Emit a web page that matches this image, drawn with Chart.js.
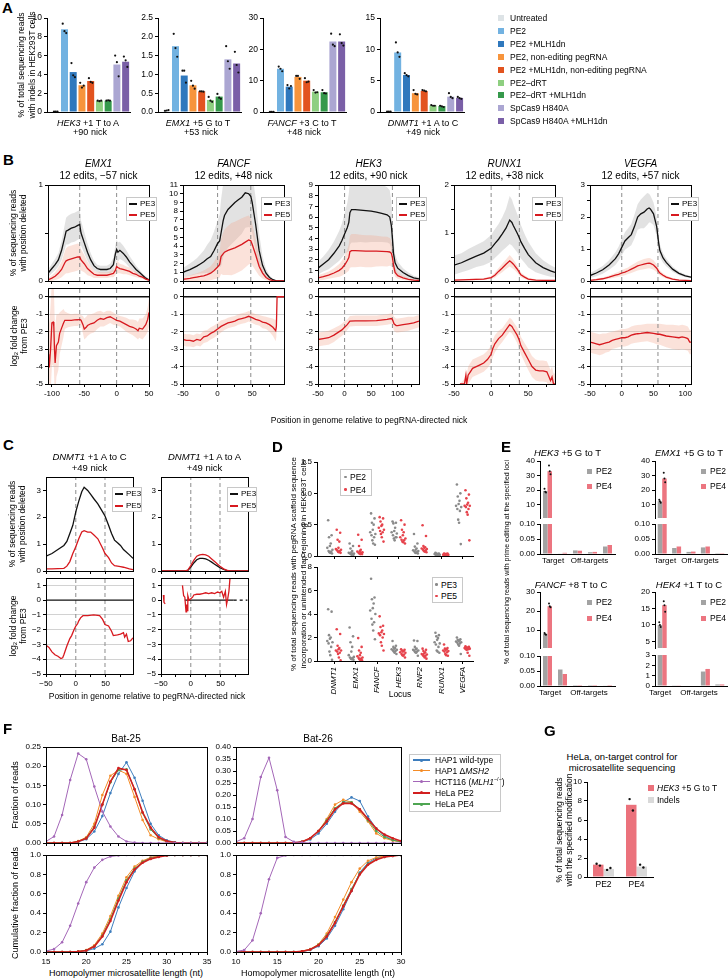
<!DOCTYPE html>
<html><head><meta charset="utf-8">
<title>Prime editing figure</title>
<script src="https://cdn.jsdelivr.net/npm/chart.js@4.4.1/dist/chart.umd.min.js"></script>
<style>
html,body{margin:0;padding:0;background:#fff}
body{width:728px;height:978px;position:relative;overflow:hidden;font-family:"Liberation Sans",Arial,Helvetica,sans-serif;color:#000}
.t{position:absolute;white-space:nowrap;line-height:1.15;transform:translate(-50%,-50%);text-align:center}
.l{position:absolute;white-space:nowrap;line-height:1;transform:translateY(-50%)}
.r{position:absolute;white-space:nowrap;transform:translate(-50%,-50%) rotate(-90deg);text-align:center}
.p{position:absolute;font-weight:bold;font-size:15px;line-height:1}
canvas{position:absolute}
sub{font-size:0.7em;vertical-align:-0.2em;line-height:0}
</style></head><body>
<script>
// ======================= DATA =======================
// ---- Panel A ----
const A_LABELS = ['Untreated','PE2','PE2 +MLH1dn','PE2, non-editing pegRNA','PE2 +MLH1dn, non-editing pegRNA','PE2–dRT','PE2–dRT +MLH1dn','SpCas9 H840A','SpCas9 H840A +MLH1dn'];
const A_COLORS = ['#dde3e6','#72b2e1','#2f78bd','#f7943c','#e2531f','#8ecf80','#35994b','#aba6d2','#7a5fa7'];
const A_HEK3  = [0.05, 8.8, 4.25, 2.85, 3.3, 1.2, 1.2, 5.05, 5.35];
const A_HEK3_REPS = [[0.05,0.05,0.05],[9.4,8.6,8.4],[5.2,3.9,3.7],[3.1,2.6,2.8],[3.6,3.2,3.1],[1.2,1.15,1.2],[1.2,1.25,1.2],[6.0,5.3,3.8],[5.9,5.5,4.8]];
const A_EMX1  = [0.04, 1.75, 0.97, 0.71, 0.55, 0.32, 0.41, 1.4, 1.29];
const A_EMX1_REPS = [[0.03,0.04,0.05],[2.08,1.7,1.47],[1.1,1.1,0.78],[0.83,0.7,0.62],[0.55,0.55,0.54],[0.4,0.3,0.27],[0.48,0.38,0.35],[1.75,1.35,1.15],[1.6,1.25,1.05]];
const A_FANCF = [0.05, 13.8, 8.1, 11.2, 10.0, 6.5, 6.3, 22.5, 22.5];
const A_FANCF_REPS = [[0.05,0.05,0.05],[14.5,13.8,13.0],[8.6,7.5,8.3],[11.5,11.5,10.6],[10.8,9.5,9.7],[7.0,6.2,6.3],[7.0,6.0,5.9],[25.0,21.5,21.0],[24.8,22.0,21.2]];
const A_DNMT1 = [0.05, 9.5, 5.9, 3.0, 3.35, 1.05, 0.95, 2.45, 2.25];
const A_DNMT1_REPS = [[0.05,0.05,0.05],[11.1,9.5,8.8],[6.2,5.9,5.7],[3.5,2.9,2.8],[3.5,3.4,3.3],[1.1,1.0,1.0],[1.0,0.9,0.8],[3.0,2.4,2.2],[2.4,2.2,2.1]];

// ---- Panel B: top rows [position, PE3 mean, PE3 sd, PE5 mean, PE5 sd]; fc rows [position, log2FC, sd] ----
const B_EMX1_TOP = [
 [-106,0.08,0.04,0.01,0.02],[-100,0.13,0.05,0.03,0.03],[-95,0.17,0.06,0.05,0.04],[-90,0.22,0.07,0.08,0.06],
 [-85,0.32,0.1,0.12,0.08],[-80,0.46,0.13,0.19,0.12],[-78,0.52,0.14,0.21,0.13],[-75,0.53,0.15,0.22,0.14],
 [-70,0.55,0.15,0.23,0.14],[-65,0.56,0.15,0.24,0.14],[-60,0.58,0.15,0.25,0.14],[-57,0.59,0.15,0.25,0.13],
 [-55,0.5,0.13,0.22,0.11],[-50,0.4,0.11,0.18,0.09],[-45,0.3,0.09,0.13,0.07],[-40,0.22,0.07,0.1,0.05],
 [-35,0.16,0.05,0.07,0.04],[-30,0.13,0.04,0.06,0.03],[-25,0.12,0.04,0.06,0.03],[-20,0.12,0.04,0.06,0.03],
 [-15,0.12,0.04,0.06,0.03],[-10,0.13,0.05,0.07,0.03],[-5,0.17,0.07,0.08,0.04],[-2,0.28,0.09,0.11,0.05],
 [0,0.33,0.1,0.15,0.06],[2,0.3,0.1,0.14,0.06],[5,0.32,0.09,0.13,0.05],[10,0.29,0.08,0.12,0.05],
 [15,0.25,0.07,0.11,0.04],[20,0.2,0.06,0.1,0.04],[25,0.16,0.05,0.08,0.03],[30,0.12,0.04,0.07,0.03],
 [35,0.09,0.03,0.05,0.02],[40,0.06,0.02,0.04,0.02],[45,0.03,0.02,0.02,0.01],[50,0.01,0.01,0.01,0.01]];
const B_EMX1_FC = [
 [-106,-3.3,2.5],[-105,-3.6,2.5],[-104,-4.05,2.5],[-102,-3.0,2.5],[-100,-1.5,2.5],[-98,-1.45,2.4],[-97,-1.7,2.3],
 [-96,-3.0,2.2],[-95,-3.8,2.0],[-93,-2.8,1.8],[-90,-2.6,1.6],[-88,-2.1,1.2],[-85,-1.8,1.0],[-82,-1.5,0.8],
 [-80,-1.35,0.5],[-75,-1.35,0.4],[-70,-1.35,0.35],[-65,-1.33,0.35],[-60,-1.32,0.35],[-57,-1.3,0.3],[-55,-1.35,0.3],
 [-52,-1.6,0.5],[-50,-1.85,0.6],[-47,-1.75,0.6],[-45,-1.65,0.6],[-40,-1.55,0.55],[-35,-1.5,0.55],[-30,-1.35,0.5],
 [-25,-1.25,0.45],[-20,-1.3,0.4],[-15,-1.2,0.4],[-10,-1.15,0.35],[-5,-1.25,0.35],[0,-1.35,0.3],[5,-1.4,0.3],
 [10,-1.5,0.35],[15,-1.6,0.4],[20,-1.7,0.4],[25,-1.75,0.45],[30,-1.85,0.5],[33,-1.95,0.5],[35,-1.8,0.55],
 [40,-1.85,0.6],[45,-1.6,0.6],[48,-1.3,0.7],[50,-0.9,0.8]];
const B_FANCF_TOP = [
 [-50,1.0,0.5,0.2,0.3],[-45,1.15,0.6,0.25,0.32],[-40,1.3,0.7,0.3,0.35],[-35,1.5,0.8,0.38,0.4],
 [-30,1.7,0.9,0.45,0.45],[-25,1.95,1.1,0.52,0.5],[-20,2.2,1.3,0.6,0.6],[-15,2.55,1.6,0.72,0.7],
 [-10,2.8,1.9,0.9,0.8],[-5,3.5,2.2,1.2,1.0],[0,4.3,2.6,1.6,1.3],[3,4.6,3.0,1.9,1.5],
 [5,5.5,3.8,2.8,2.0],[8,6.9,4.2,3.1,2.4],[10,7.5,4.3,3.3,2.6],[15,8.2,4.4,3.5,2.8],
 [20,8.6,4.4,3.65,3.0],[25,9.0,4.4,3.8,3.0],[30,9.3,4.3,4.0,3.0],[35,9.6,4.2,4.2,3.0],
 [40,10.1,4.0,4.45,2.9],[45,10.0,3.8,4.7,2.8],[48,9.7,3.6,4.6,2.6],[50,9.0,3.4,4.2,2.4],
 [55,6.5,3.0,3.0,1.8],[60,3.5,2.0,1.7,1.1],[65,1.8,1.0,0.9,0.6],[70,0.9,0.5,0.4,0.3],
 [75,0.4,0.25,0.15,0.12],[80,0.15,0.1,0.05,0.05],[85,0.02,0.02,0.01,0.01],[90,0,0,0,0],[96,0,0,0,0]];
const B_FANCF_FC = [
 [-50,-2.45,0.35],[-45,-2.5,0.35],[-40,-2.5,0.35],[-35,-2.55,0.35],[-30,-2.45,0.35],[-25,-2.5,0.35],[-20,-2.3,0.35],
 [-15,-2.25,0.35],[-10,-2.1,0.35],[-5,-2.0,0.35],[0,-1.85,0.35],[5,-1.7,0.35],[10,-1.6,0.3],[15,-1.5,0.3],
 [20,-1.45,0.3],[25,-1.4,0.3],[30,-1.3,0.3],[35,-1.25,0.3],[40,-1.2,0.3],[45,-1.12,0.3],[50,-1.2,0.3],
 [55,-1.3,0.3],[60,-1.35,0.3],[65,-1.45,0.35],[70,-1.5,0.35],[75,-1.6,0.4],[80,-1.75,0.5],[84,-1.95,0.6],
 [85,-1.7,0.6],[86,0,0],[96,0,0]];
const B_HEK3_TOP = [
 [-50,1.2,0.6,0.3,0.25],[-40,1.6,0.7,0.4,0.3],[-30,2.0,0.9,0.55,0.35],[-20,2.6,1.1,0.75,0.45],
 [-10,3.3,1.4,1.0,0.6],[-5,3.8,1.6,1.2,0.7],[0,4.4,1.9,1.5,0.85],[5,5.0,2.3,1.9,1.05],
 [8,5.5,2.7,2.2,1.25],[10,6.4,3.0,2.75,1.5],[13,6.7,3.1,2.85,1.55],[20,6.7,3.1,2.85,1.55],
 [30,6.65,3.0,2.83,1.5],[40,6.6,3.0,2.8,1.5],[50,6.55,2.9,2.8,1.5],[60,6.45,2.8,2.8,1.45],
 [70,6.35,2.7,2.78,1.4],[80,6.2,2.6,2.75,1.4],[85,6.0,2.5,2.72,1.3],[88,5.2,2.2,2.6,1.2],
 [90,4.0,1.8,2.2,1.0],[92,2.6,1.2,1.5,0.7],[95,1.7,0.8,0.8,0.4],[100,1.2,0.6,0.5,0.3],
 [110,0.8,0.4,0.3,0.2],[120,0.5,0.3,0.15,0.1],[130,0.3,0.2,0.08,0.06],[140,0.2,0.15,0.05,0.04]];
const B_HEK3_FC = [
 [-50,-2.45,0.4],[-40,-2.4,0.4],[-30,-2.35,0.4],[-20,-2.2,0.4],[-10,-2.0,0.35],[-5,-1.9,0.35],[0,-1.75,0.35],
 [5,-1.6,0.3],[10,-1.4,0.3],[20,-1.38,0.3],[40,-1.38,0.3],[60,-1.37,0.3],[80,-1.3,0.3],[88,-1.25,0.3],
 [90,-1.3,0.35],[93,-1.55,0.4],[97,-1.65,0.4],[100,-1.65,0.4],[110,-1.6,0.4],[120,-1.55,0.4],[130,-1.5,0.35],[140,-1.4,0.35]];
const B_RUNX1_TOP = [
 [-50,0.33,0.2,0.02,0.01],[-40,0.38,0.2,0.025,0.01],[-30,0.45,0.22,0.03,0.015],[-20,0.52,0.23,0.035,0.02],
 [-10,0.58,0.25,0.04,0.02],[0,0.68,0.28,0.07,0.03],[5,0.78,0.3,0.12,0.05],[10,0.87,0.32,0.2,0.07],
 [15,0.98,0.35,0.27,0.09],[20,1.1,0.4,0.35,0.1],[25,1.27,0.5,0.42,0.12],[28,1.22,0.48,0.38,0.11],
 [30,1.15,0.45,0.35,0.1],[35,1.0,0.4,0.25,0.08],[38,0.9,0.38,0.18,0.06],[40,0.82,0.35,0.13,0.05],
 [45,0.68,0.3,0.08,0.04],[50,0.55,0.27,0.04,0.03],[60,0.38,0.2,0.02,0.015],[70,0.28,0.15,0.015,0.01],
 [80,0.21,0.12,0.01,0.01],[86,0.18,0.1,0.01,0.01]];
const B_RUNX1_FC = [
 [-42,-5,0],[-36,-5,0.3],[-34,-4.5,0.4],[-33,-5,0.5],[-31,-4.5,0.5],[-28,-4.3,0.5],[-25,-4.1,0.5],[-20,-4.0,0.5],
 [-15,-3.9,0.5],[-10,-3.8,0.5],[-5,-3.6,0.5],[0,-3.3,0.5],[2,-3.0,0.5],[5,-2.7,0.5],[10,-2.4,0.45],[15,-2.2,0.4],
 [20,-1.9,0.4],[25,-1.6,0.4],[28,-1.7,0.4],[30,-1.85,0.4],[35,-2.2,0.45],[38,-2.5,0.5],[40,-2.8,0.5],[45,-3.2,0.55],
 [50,-3.6,0.6],[55,-4.0,0.6],[60,-4.2,0.6],[65,-4.25,0.6],[70,-4.25,0.6],[75,-4.3,0.6],[78,-4.6,0.6],[80,-4.8,0.6],
 [82,-4.6,0.6],[84,-5,0.6],[86,-5,0.6]];
const B_VEGFA_TOP = [
 [-50,0.17,0.08,0.02,0.02],[-40,0.25,0.1,0.04,0.03],[-30,0.35,0.12,0.07,0.04],[-20,0.5,0.15,0.12,0.05],
 [-10,0.7,0.2,0.18,0.07],[-5,0.85,0.22,0.21,0.08],[0,1.05,0.25,0.25,0.09],[5,1.25,0.27,0.28,0.1],
 [10,1.35,0.3,0.32,0.1],[15,1.45,0.33,0.37,0.12],[20,1.7,0.37,0.42,0.13],[25,2.0,0.4,0.47,0.14],
 [30,2.1,0.45,0.5,0.15],[35,2.15,0.5,0.53,0.16],[40,2.25,0.5,0.55,0.16],[43,2.28,0.45,0.56,0.16],
 [45,2.25,0.42,0.55,0.16],[50,2.1,0.35,0.5,0.15],[55,1.7,0.3,0.4,0.12],[58,1.2,0.25,0.3,0.1],
 [60,0.95,0.2,0.25,0.08],[65,0.72,0.15,0.18,0.06],[70,0.58,0.12,0.12,0.05],[80,0.37,0.08,0.06,0.03],
 [90,0.24,0.06,0.03,0.02],[100,0.16,0.04,0.02,0.01],[109,0.12,0.03,0.01,0.01]];
const B_VEGFA_FC = [
 [-50,-2.6,0.6],[-45,-2.65,0.6],[-40,-2.7,0.6],[-35,-2.75,0.6],[-30,-2.7,0.6],[-25,-2.65,0.55],[-20,-2.6,0.55],
 [-15,-2.5,0.5],[-10,-2.45,0.5],[-5,-2.4,0.5],[0,-2.35,0.5],[5,-2.35,0.5],[10,-2.3,0.5],[15,-2.2,0.5],
 [20,-2.15,0.5],[25,-2.12,0.5],[30,-2.1,0.5],[40,-2.05,0.5],[50,-2.1,0.55],[57,-2.15,0.6],[60,-2.15,0.6],
 [70,-2.25,0.65],[80,-2.3,0.7],[90,-2.35,0.7],[95,-2.3,0.7],[100,-2.35,0.7],[104,-2.4,0.7],[107,-2.6,0.7],[109,-2.6,0.7]];
const B_NICKS = {EMX1:[-57,0], FANCF:[0,48], HEK3:[0,90], RUNX1:[0,38], VEGFA:[0,57]};

// ---- Panel C: top rows [position, PE3, PE5]; fc rows [position, log2FC] ----
const C_AC_TOP = [
 [-50,0.55,0.08],[-40,0.65,0.08],[-30,0.8,0.09],[-20,0.95,0.1],[-15,1.1,0.18],[-10,1.4,0.35],[-5,1.7,0.65],
 [0,2.2,0.9],[5,2.6,1.2],[10,2.95,1.45],[14,3.12,1.5],[20,3.0,1.45],[25,2.85,1.45],[30,2.7,1.35],[37,2.5,1.2],
 [45,2.2,0.85],[49,2.05,0.65],[55,1.7,0.5],[60,1.4,0.3],[65,1.15,0.2],[70,1.05,0.18],[75,0.95,0.16],
 [80,0.8,0.14],[90,0.6,0.08],[96,0.47,0.05]];
const C_AC_FC = [
 [-50,-3.05],[-45,-3.2],[-40,-3.5],[-35,-3.7],[-30,-3.8],[-25,-3.95],[-22,-3.9],[-20,-3.7],[-15,-3.1],[-10,-2.6],
 [-7,-2.4],[-3,-2.0],[0,-1.75],[3,-1.6],[5,-1.4],[8,-1.2],[12,-1.05],[20,-1.05],[30,-1.0],[40,-1.05],[45,-1.3],
 [49,-1.65],[55,-1.75],[60,-2.1],[63,-2.4],[70,-2.35],[75,-2.3],[80,-2.2],[82,-2.5],[85,-2.3],[88,-2.8],[92,-2.75],[96,-2.55]];
const C_AA_TOP = [
 [-50,0,0],[-10,0,0],[-5,0.02,0.03],[0,0.15,0.2],[5,0.3,0.4],[10,0.42,0.55],[15,0.47,0.6],[20,0.47,0.62],
 [25,0.45,0.6],[30,0.4,0.55],[35,0.33,0.45],[40,0.25,0.35],[45,0.18,0.25],[49,0.12,0.18],[55,0.06,0.08],
 [60,0.02,0.03],[65,0,0],[96,0,0]];
const C_AA_FC = [
 [-46,0.35],[-45,-0.15],[-44,-0.2],[-43,-0.25],[-30,null],[-14,1.0],[-12,0.3],[-10,0.2],[-8,-0.8],[-7,-0.3],
 [-6,-0.7],[-5,0.3],[-3,0.0],[0,0.1],[3,0.2],[5,0.35],[10,0.4],[15,0.4],[20,0.45],[25,0.5],[30,0.45],[35,0.5],
 [40,0.45],[45,0.55],[49,0.5],[52,0.6],[55,0.2],[58,0.6],[60,-0.3],[62,0.1],[64,0.6],[66,1.6]];
const C_NICKS = [0, 49];

// ---- Panel D ----
const D_LOCI = ['DNMT1','EMX1','FANCF','HEK3','RNF2','RUNX1','VEGFA'];
const D_PE2 = [
 [0.57,0.33,0.3,0.2,0.16,0.13,0.1,0.08,0.07,0.06,0.05,0.04],
 [0.2,0.16,0.12,0.08,0.06,0.05,0.04,0.04,0.03,0.03,0.02,0.02],
 [0.68,0.6,0.53,0.5,0.42,0.38,0.35,0.33,0.3,0.25,0.2,0.18],
 [0.55,0.53,0.52,0.45,0.4,0.38,0.36,0.33,0.3,0.28,0.25,0.3],
 [0.35,0.2,0.15,0.12,0.1,0.09,0.08,0.07,0.06,0.05,0.05,0.04],
 [0.05,0.04,0.04,0.03,0.03,0.03,0.02,0.02,0.02,0.01,0.01,0.01],
 [1.14,1.0,0.95,0.88,0.83,0.8,0.78,0.75,0.72,0.58,0.53,0.19]];
const D_PE4 = [
 [0.42,0.37,0.26,0.23,0.13,0.11,0.1,0.09,0.08,0.07,0.06,0.05],
 [0.34,0.26,0.16,0.1,0.08,0.07,0.06,0.05,0.05,0.04,0.03,0.03],
 [0.62,0.6,0.55,0.5,0.48,0.45,0.42,0.4,0.38,0.35,0.3,0.23],
 [0.57,0.5,0.42,0.38,0.33,0.3,0.28,0.26,0.25,0.23,0.22,0.2],
 [0.49,0.32,0.16,0.14,0.13,0.12,0.11,0.1,0.09,0.08,0.07,0.06],
 [0.04,0.04,0.03,0.03,0.03,0.02,0.02,0.02,0.02,0.02,0.01,0.01],
 [1.05,0.98,0.92,0.85,0.82,0.8,0.8,0.78,0.75,0.7,0.66,0.25]];
const D_PE3 = [
 [4.4,4.2,2.2,2.0,1.9,1.7,1.6,1.5,1.2,0.8,0.5,0.1],
 [2.85,2.1,1.6,1.2,0.8,0.5,0.35,0.3,0.25,0.2,0.15,0.1],
 [7.0,5.4,5.25,4.9,4.5,4.3,4.0,3.6,3.3,3.1,2.6,1.85],
 [1.7,1.3,1.2,1.1,1.05,1.0,0.95,0.9,0.85,0.8,0.7,0.6],
 [1.75,1.7,1.2,1.05,1.0,0.95,0.9,0.85,0.8,0.75,0.7,0.45],
 [2.4,2.2,2.1,1.95,1.8,1.6,1.5,1.4,1.2,0.9,0.8,0.7],
 [2.0,1.85,1.8,1.75,1.7,1.65,1.6,1.55,1.5,1.4,1.3,0.6]];
const D_PE5 = [
 [2.7,2.3,1.3,1.1,1.0,0.9,0.9,0.8,0.7,0.6,0.3,0.05],
 [1.95,1.2,0.9,0.7,0.5,0.4,0.3,0.25,0.2,0.15,0.1,0.05],
 [3.8,3.0,2.9,2.6,2.45,2.35,2.3,2.2,2.0,1.6,1.3,0.9],
 [1.0,0.95,0.9,0.85,0.8,0.75,0.7,0.6,0.55,0.5,0.45,0.3],
 [1.05,0.95,0.85,0.75,0.65,0.6,0.55,0.5,0.45,0.4,0.3,0.2],
 [1.4,1.1,1.05,1.0,0.95,0.9,0.85,0.8,0.75,0.6,0.5,0.45],
 [1.25,1.2,1.15,1.15,1.1,1.1,1.05,1.0,1.0,0.95,0.7,0.45]];

// ---- Panel E (categories: target + 4 off-targets) ----
const E_CATS = ['Target','Off-target 1','Off-target 2','Off-target 3','Off-target 4'];
const E_HEK3_PE2  = [19.5, 0.002, 0.012, 0.006, 0.025];
const E_HEK3_PE4  = [33.0, 0.004, 0.011, 0.007, 0.03];
const E_HEK3_REPS = [[21,19,18.5],[37,33,31]];
const E_EMX1_PE2  = [12.5, 0.02, 0.007, 0.022, 0.0005];
const E_EMX1_PE4  = [28.0, 0.025, 0.008, 0.025, 0.0005];
const E_EMX1_REPS = [[13.5,12.5,11.5],[32,28,25.5]];
const E_FANCF_PE2 = [8.0, 0.055, 0.003, 0.003, 0.002];
const E_FANCF_PE4 = [22.5, 0.04, 0.003, 0.003, 0.003];
const E_FANCF_REPS = [[8.5,7.8,7.6],[24,22.5,22]];
const E_HEK4_PE2  = [10.0, 0.03, 0, 1.4, 0.15];
const E_HEK4_PE4  = [16.0, 0.03, 0, 1.65, 0.15];
const E_HEK4_REPS = [[10.8,10,9.4],[17.2,16,14]];

// ---- Panel F (lengths in nt) ----
const F_KEYS = ['HAP1 wild-type','HAP1 ΔMSH2','HCT116 (MLH1−/−)','HeLa PE2','HeLa PE4'];
const F_COLORS = ['#3d7dbd','#f48c27','#a467b8','#d21f1f','#4ea552'];
const F25_LEN = [15,16,17,18,19,20,21,22,23,24,25,26,27,28,29,30,31,32,33,34,35];
const F25_WT   = [0,0,0,0,0.003,0.01,0.03,0.07,0.13,0.18,0.21,0.17,0.11,0.05,0.02,0.007,0.002,0,0,0,0];
const F25_MSH2 = [0,0,0,0,0.005,0.015,0.05,0.125,0.175,0.19,0.18,0.12,0.06,0.02,0.01,0.003,0,0,0,0,0];
const F25_HCT  = [0.004,0.017,0.073,0.164,0.233,0.218,0.147,0.082,0.043,0.017,0.004,0.001,0,0,0,0,0,0,0,0,0];
const F25_PE2  = [0,0,0,0,0.004,0.012,0.04,0.1,0.16,0.195,0.19,0.14,0.08,0.04,0.015,0.005,0.001,0,0,0,0];
const F25_PE4  = [0,0,0,0,0.004,0.013,0.042,0.1,0.158,0.19,0.192,0.14,0.078,0.035,0.013,0.004,0.001,0,0,0,0];
const F25C_WT   = [0,0,0,0,0.003,0.012,0.035,0.08,0.21,0.46,0.66,0.83,0.93,0.975,0.99,0.998,1,1,1,1,1];
const F25C_MSH2 = [0,0,0,0,0.005,0.02,0.07,0.19,0.37,0.58,0.77,0.88,0.94,0.975,0.99,0.997,1,1,1,1,1];
const F25C_HCT  = [0.01,0.03,0.1,0.27,0.5,0.72,0.87,0.95,0.985,0.995,1,1,1,1,1,1,1,1,1,1,1];
const F25C_PE2  = [0,0,0,0,0.004,0.016,0.056,0.16,0.32,0.53,0.72,0.85,0.92,0.96,0.98,0.995,1,1,1,1,1];
const F25C_PE4  = [0,0,0,0,0.004,0.017,0.06,0.17,0.34,0.55,0.74,0.86,0.93,0.965,0.985,0.996,1,1,1,1,1];
const F26_LEN = [10,11,12,13,14,15,16,17,18,19,20,21,22,23,24,25,26,27,28,29,30];
const F26_WT   = [0,0,0,0,0,0,0,0,0.005,0.015,0.04,0.08,0.13,0.17,0.19,0.175,0.11,0.06,0.03,0.012,0.005];
const F26_MSH2 = [0,0,0,0,0,0,0,0,0.005,0.02,0.05,0.1,0.16,0.18,0.17,0.13,0.09,0.04,0.02,0.01,0.005];
const F26_HCT  = [0.005,0.02,0.1,0.275,0.355,0.22,0.025,0.005,0.002,0,0,0,0,0,0,0,0,0,0,0,0];
const F26_PE2  = [0,0,0,0,0,0,0,0,0.005,0.02,0.05,0.09,0.14,0.165,0.165,0.14,0.1,0.06,0.035,0.02,0.008];
const F26_PE4  = [0,0,0,0,0,0,0,0,0.005,0.02,0.05,0.095,0.145,0.17,0.17,0.14,0.095,0.05,0.025,0.012,0.005];
const F26C_WT   = [0,0,0,0,0,0,0,0,0.005,0.02,0.06,0.14,0.27,0.44,0.63,0.82,0.92,0.97,0.99,1,1];
const F26C_MSH2 = [0,0,0,0,0,0,0,0,0.008,0.03,0.08,0.19,0.36,0.54,0.72,0.86,0.94,0.975,0.99,1,1];
const F26C_HCT  = [0.005,0.02,0.12,0.4,0.75,0.97,0.995,1,1,1,1,1,1,1,1,1,1,1,1,1,1];
const F26C_PE2  = [0,0,0,0,0,0,0,0,0.007,0.025,0.07,0.16,0.3,0.47,0.63,0.8,0.9,0.95,0.98,0.99,1];
const F26C_PE4  = [0,0,0,0,0,0,0,0,0.007,0.025,0.075,0.17,0.31,0.48,0.65,0.81,0.91,0.955,0.98,0.99,1];

// ---- Panel G ----
const G_CATS = ['PE2','PE4'];
const G_EDIT = [1.3, 7.6];
const G_EDIT_REPS = [[1.4,1.2],[8.2,7.0]];
const G_INDEL = [0.85, 1.1];
const G_INDEL_REPS = [[0.75,0.95],[1.3,1.0]];

// ======================= STYLE / HELPERS =======================
const FONT = '"Liberation Sans", Arial, Helvetica, sans-serif';
Chart.defaults.font.family = FONT;
Chart.defaults.font.size = 8;
Chart.defaults.color = '#000';
Chart.defaults.animation = false;
Chart.defaults.events = [];
Chart.defaults.plugins.legend.display = false;
Chart.defaults.plugins.tooltip.enabled = false;
Chart.defaults.elements.line.tension = 0;

const BLK = '#111', RED = '#d7191f', DASH = '#8c8c8c';
const GRAYB = 'rgba(185,185,185,0.42)', PINKB = 'rgba(243,165,140,0.32)';
const E_GRAY = '#a3a3a3', E_PINK = '#ec7580', D_GRAY = '#8a8a8a', D_RED = '#e6434c';
const G_PINK = '#eb727c', G_GRAY = '#d9d9d9';
const DOT3 = [-0.2, 0, 0.2];
const JIT12 = [-0.08,0.08,-0.04,0.04,0,-0.12,0.12,-0.06,0.06,-0.02,0.02,0.1];
const JIT3 = [-0.05, 0, 0.05];

Chart.register({
  id: 'frame', defaults: { on: false },
  afterDraw(chart, args, opts) {
    if (!opts.on) return;
    const a = chart.chartArea, ctx = chart.ctx;
    const al = p => Math.round(p - 0.5) + 0.5;
    ctx.save(); ctx.strokeStyle = '#000'; ctx.lineWidth = 1;
    ctx.strokeRect(al(a.left), al(a.top), al(a.right) - al(a.left), al(a.bottom) - al(a.top));
    ctx.restore();
  }
});

function linAxis(pos, min, max, ticks, lab, o = {}) {
  return {
    type: 'linear', position: pos, min, max, offset: false,
    afterBuildTicks: s => { s.ticks = ticks.map(v => ({ value: v })); },
    ticks: {
      autoSkip: false, includeBounds: false,
      maxRotation: o.rot || 0, minRotation: o.rot || 0,
      padding: o.pad ?? 2,
      font: { size: o.fs || 8, style: o.italic ? 'italic' : 'normal' },
      color: '#000',
      callback: v => lab(v),
    },
    grid: {
      display: true, drawOnChartArea: !!o.grid, color: o.grid || '#000', offset: false,
      tickColor: '#000', tickLength: o.tl ?? 3, lineWidth: 1, drawTicks: o.tl !== 0,
    },
    border: { display: true, color: '#000', width: 1 },
  };
}

function mk(rect, cfg, o = {}) {
  const [L, T, R, B] = rect;
  const sc = cfg.options.scales;
  let hasB = false, hasL = false;
  for (const k in sc) {
    const s = sc[k];
    if (s.display === false) continue;
    if (s.position === 'bottom') hasB = true;
    if (s.position === 'left') hasL = true;
  }
  const yW = hasL ? (o.yW ?? 30) : 0, xH = hasB ? (o.xH ?? 14) : 0;
  const pt = o.pt ?? 6, pr = o.pr ?? 6, pb = o.pb ?? 0;
  for (const k in sc) {
    const s = sc[k];
    if (s.display === false) continue;
    if (s.position === 'left') s.afterFit = a => { a.width = yW; a.paddingTop = 0; a.paddingBottom = 0; };
    if (s.position === 'bottom') s.afterFit = a => { a.height = xH; a.paddingLeft = 0; a.paddingRight = 0; };
  }
  const W = Math.round(R - L + yW + pr), H = Math.round(B - T + pt + xH + pb);
  const cv = document.createElement('canvas');
  cv.width = W; cv.height = H;
  cv.style.left = (L - yW) + 'px'; cv.style.top = (T - pt) + 'px';
  cv.style.width = W + 'px'; cv.style.height = H + 'px';
  document.body.appendChild(cv);
  cfg.options.responsive = false;
  cfg.options.maintainAspectRatio = false;
  cfg.options.devicePixelRatio = 1;
  cfg.options.layout = { autoPadding: false, padding: { top: pt, right: pr, left: 0, bottom: pb } };
  return new Chart(cv, cfg);
}

function band(rows, xi, mi, si, color, ord) {
  return [
    { data: rows.map(r => ({ x: r[xi], y: r[mi] - r[si] })), borderColor: 'rgba(0,0,0,0)', borderWidth: 0, pointRadius: 0, fill: false, order: ord },
    { data: rows.map(r => ({ x: r[xi], y: r[mi] + r[si] })), borderColor: 'rgba(0,0,0,0)', borderWidth: 0, pointRadius: 0, fill: '-1', backgroundColor: color, order: ord },
  ];
}
function line(rows, xi, yi, color, ord, w) {
  return { data: rows.map(r => ({ x: r[xi], y: r[yi] })), borderColor: color, borderWidth: w || 1.3, pointRadius: 0, fill: false, order: ord, spanGaps: false };
}
function vline(x, y0, y1) {
  return { data: [{ x, y: y0 }, { x, y: y1 }], borderColor: DASH, borderWidth: 1, borderDash: [4, 3], pointRadius: 0, fill: false, order: 5 };
}
function dotSet(data, r) {
  return { type: 'scatter', data, pointRadius: r || 1.1, pointBackgroundColor: '#111', pointBorderColor: '#111', pointBorderWidth: 0, order: 0 };
}

// ---------- text helpers ----------
function T(x, y, html, fs, cls, extra) {
  const d = document.createElement('div');
  d.className = cls || 't';
  d.style.left = x + 'px'; d.style.top = y + 'px';
  d.style.fontSize = (fs || 9) + 'px';
  if (extra) d.style.cssText += extra;
  d.innerHTML = html;
  document.body.appendChild(d);
  return d;
}
function blk(x, y, w, h, css) {
  const d = document.createElement('div');
  d.style.cssText = `position:absolute;left:${x}px;top:${y}px;width:${w}px;height:${h}px;${css}`;
  document.body.appendChild(d);
  return d;
}

// ======================= PANEL A =======================
function aChart(rect, vals, reps, ymax, yt, ylab) {
  const dots = [];
  reps.forEach((r, i) => r.forEach((v, j) => dots.push({ x: i + DOT3[j], y: v })));
  mk(rect, { type: 'bar', data: { datasets: [
    dotSet(dots),
    { type: 'bar', data: vals.map((v, i) => ({ x: i, y: v })), backgroundColor: A_COLORS, barThickness: 7, borderWidth: 0, inflateAmount: 0, order: 1, clip: 0 },
  ] }, options: { scales: {
    x: { type: 'linear', position: 'bottom', min: -1, max: 8.5, offset: false, ticks: { display: false }, grid: { display: false }, border: { display: true, color: '#000', width: 1 } },
    y: linAxis('left', 0, ymax, yt, ylab, { fs: 8.5 }),
  } } }, { yW: 30, xH: 6 });
}
aChart([47, 18, 130, 112], A_HEK3, A_HEK3_REPS, 10, [0,2,4,6,8,10], v => String(v));
aChart([158, 18, 241, 112], A_EMX1, A_EMX1_REPS, 2.5, [0,0.5,1,1.5,2,2.5], v => v.toFixed(1));
aChart([263, 18, 346, 112], A_FANCF, A_FANCF_REPS, 30, [0,10,20,30], v => String(v));
aChart([380, 18, 464, 112], A_DNMT1, A_DNMT1_REPS, 15, [0,5,10,15], v => String(v));

// ======================= PANEL B =======================
const bLabX = v => (v % 50 === 0 ? String(v) : '');
function curveTop(rect, rows, xr, xt, ymax, yt, ylab, nicks, withBands) {
  const ds = [];
  if (withBands) { ds.push(...band(rows, 0, 1, 2, GRAYB, 10)); ds.push(...band(rows, 0, 3, 4, PINKB, 9)); }
  nicks.forEach(n => ds.push(vline(n, 0, ymax)));
  ds.push(line(rows, 0, 1, BLK, 2));
  ds.push(line(rows, 0, withBands ? 3 : 2, RED, 1));
  mk(rect, { type: 'line', data: { datasets: ds }, options: { scales: {
    x: linAxis('bottom', xr[0], xr[1], xt, () => ''),
    y: linAxis('left', 0, ymax, yt, ylab),
  }, plugins: { frame: { on: true } } } }, { yW: 30, xH: 6 });
}
function curveBot(rect, rows, withBand, xr, xt, xlab, nicks, yr, yt, ylab, gridVals, zeroSegs) {
  const ds = [];
  if (withBand) ds.push(...band(rows, 0, 1, 2, PINKB, 9));
  nicks.forEach(n => ds.push(vline(n, yr[0], yr[1])));
  zeroSegs.forEach(z => ds.push({ data: [{ x: z[0], y: 0 }, { x: z[1], y: 0 }], borderColor: BLK, borderWidth: 1.3, borderDash: z[2] ? [3, 3] : [], pointRadius: 0, fill: false, order: 2 }));
  ds.push(line(rows, 0, 1, RED, 1));
  mk(rect, { type: 'line', data: { datasets: ds }, options: { scales: {
    x: linAxis('bottom', xr[0], xr[1], xt, xlab),
    y: linAxis('left', yr[0], yr[1], yt, ylab, { grid: ctx => (ctx.tick && gridVals.includes(ctx.tick.value)) ? '#d2d2d2' : 'rgba(0,0,0,0)' }),
  }, plugins: { frame: { on: true } } } }, { yW: 30, xH: 14 });
}
const B_SPECS = [
  { gene: 'EMX1', sub: '12 edits, −57 nick', L: 48, top: B_EMX1_TOP, fc: B_EMX1_FC, xr: [-106, 50], xt: [-100,-75,-50,-25,0,25,50], ymax: 1, yt: [0,0.5,1], ylab: v => (v === 0 || v === 1) ? String(v) : '' },
  { gene: 'FANCF', sub: '12 edits, +48 nick', L: 183, top: B_FANCF_TOP, fc: B_FANCF_FC, xr: [-50, 96], xt: [-50,-25,0,25,50,75], ymax: 11, yt: [0,1,2,3,4,5,6,7,8,9,10,11], ylab: v => String(v) },
  { gene: 'HEK3', sub: '12 edits, +90 nick', L: 318, top: B_HEK3_TOP, fc: B_HEK3_FC, xr: [-50, 140], xt: [-50,-25,0,25,50,75,100,125], ymax: 9, yt: [0,1,2,3,4,5,6,7,8,9], ylab: v => String(v) },
  { gene: 'RUNX1', sub: '12 edits, +38 nick', L: 454, top: B_RUNX1_TOP, fc: B_RUNX1_FC, xr: [-50, 86], xt: [-50,-25,0,25,50,75], ymax: 2, yt: [0,0.5,1,1.5,2], ylab: v => Number.isInteger(v) ? String(v) : '' },
  { gene: 'VEGFA', sub: '12 edits, +57 nick', L: 590, top: B_VEGFA_TOP, fc: B_VEGFA_FC, xr: [-50, 109], xt: [-50,-25,0,25,50,75,100], ymax: 3, yt: [0,0.5,1,1.5,2,2.5,3], ylab: v => Number.isInteger(v) ? String(v) : '' },
];
B_SPECS.forEach(s => {
  const nicks = B_NICKS[s.gene];
  curveTop([s.L, 185, s.L + 101, 281], s.top, s.xr, s.xt, s.ymax, s.yt, s.ylab, nicks, true);
  curveBot([s.L, 288, s.L + 101, 384], s.fc, true, s.xr, s.xt, bLabX, nicks, [-5, 0.5], [-5,-4,-3,-2,-1,0], v => String(v), [-4,-3,-2,-1], [[s.xr[0], s.xr[1], false]]);
});

// ======================= PANEL C =======================
const cLabX = v => (v % 50 === 0 ? String(v).replace('-', '−') : '');
const cLabY = v => String(v).replace('-', '−');
curveTop([46, 477, 133, 571], C_AC_TOP, [-50, 96], [-50,-25,0,25,50,75], 3.5, [0,1,2,3], v => String(v), C_NICKS, false);
curveTop([161, 477, 248, 571], C_AA_TOP, [-50, 96], [-50,-25,0,25,50,75], 3.5, [0,1,2,3], v => String(v), C_NICKS, false);
curveBot([46, 578, 133, 674], C_AC_FC, false, [-50, 96], [-50,-25,0,25,50,75], cLabX, C_NICKS, [-5, 1.5], [-5,-4,-3,-2,-1,0,1], cLabY, [-4,-3,-2,-1,1], [[-50, 96, false]]);
curveBot([161, 578, 248, 674], C_AA_FC, false, [-50, 96], [-50,-25,0,25,50,75], cLabX, C_NICKS, [-5, 1.5], [-5,-4,-3,-2,-1,0,1], cLabY, [-4,-3,-2,-1,1], [[-10, 72, false], [72, 95, true]]);

// ======================= PANEL D =======================
function dChart(rect, g1, g2, ymax, yt, ylab, showLab, xH) {
  const a = [], b = [];
  D_LOCI.forEach((_, k) => {
    g1[k].forEach((v, j) => a.push({ x: k - 0.2 + JIT12[j], y: v }));
    g2[k].forEach((v, j) => b.push({ x: k + 0.2 + JIT12[j], y: v }));
  });
  mk(rect, { type: 'scatter', data: { datasets: [
    { data: a, pointRadius: 1.3, pointBackgroundColor: D_GRAY, pointBorderColor: D_GRAY, pointBorderWidth: 0 },
    { data: b, pointRadius: 1.3, pointBackgroundColor: D_RED, pointBorderColor: D_RED, pointBorderWidth: 0 },
  ] }, options: { scales: {
    x: linAxis('bottom', -0.8, 6.47, [0,1,2,3,4,5,6], showLab ? (v => D_LOCI[v]) : (() => ''), { rot: showLab ? 90 : 0, italic: true, pad: 3 }),
    y: linAxis('left', 0, ymax, yt, ylab),
  } } }, { yW: 28, xH });
}
dChart([317, 462, 473, 556], D_PE2, D_PE4, 1.5, [0,0.5,1,1.5], v => v.toFixed(1), false, 6);
dChart([317, 567, 473, 661], D_PE3, D_PE5, 8, [0,2,4,6,8], v => String(v), true, 36);

// ======================= PANEL E =======================
function eChart(L, R, tTB, bTB, pe2, pe4, reps, topAx, botAx) {
  const n = E_CATS.length;
  const bars = (lo) => [
    { type: 'bar', data: pe2.map((v, i) => ({ x: i, y: v >= lo ? v : null })), backgroundColor: E_GRAY, barThickness: 4.5, borderWidth: 0, inflateAmount: 0, clip: 0, order: 2 },
    { type: 'bar', data: pe4.map((v, i) => ({ x: i, y: v >= lo ? v : null })), backgroundColor: E_PINK, barThickness: 4.5, borderWidth: 0, inflateAmount: 0, clip: 0, order: 2 },
  ];
  const off = 2.25 / ((R - L) / n);
  const dots = [...reps[0].map((v, j) => ({ x: -off + JIT3[j], y: v })), ...reps[1].map((v, j) => ({ x: off + JIT3[j], y: v }))];
  mk([L, tTB[0], R, tTB[1]], { type: 'bar', data: { datasets: [dotSet(dots, 1), ...bars(topAx[0])] }, options: { scales: {
    x: { type: 'linear', display: false, min: -0.5, max: n - 0.5, offset: false },
    y: Object.assign(linAxis('left', topAx[0], topAx[1], topAx[2], v => String(v)), { beginAtZero: false }),
  } } }, { yW: 24, pb: 2 });
  mk([L, bTB[0], R, bTB[1]], { type: 'bar', data: { datasets: bars(-1) }, options: { scales: {
    x: { type: 'linear', position: 'bottom', min: -0.5, max: n - 0.5, offset: false, ticks: { display: false }, grid: { display: false }, border: { display: true, color: '#000', width: 1 } },
    y: linAxis('left', botAx[0], botAx[1], botAx[2], botAx[3]),
  } } }, { yW: 24, xH: 3 });
}
const e2 = v => v.toFixed(2);
eChart(540, 615, [461, 518], [524, 554], E_HEK3_PE2, E_HEK3_PE4, E_HEK3_REPS, [1, 40, [10,20,30,40]], [0, 0.1, [0,0.05,0.1], e2]);
eChart(655, 727, [461, 518], [524, 554], E_EMX1_PE2, E_EMX1_PE4, E_EMX1_REPS, [1, 40, [10,20,30,40]], [0, 0.1, [0,0.05,0.1], e2]);
eChart(540, 615, [592, 648], [656, 686], E_FANCF_PE2, E_FANCF_PE4, E_FANCF_REPS, [0.6, 30, [10,20,30]], [0, 0.1, [0,0.05,0.1], e2]);
eChart(655, 727, [592, 648], [655, 686], E_HEK4_PE2, E_HEK4_PE4, E_HEK4_REPS, [3, 20, [5,10,15,20]], [0, 3, [0,1,2,3], v => String(v)]);

// ======================= PANEL F =======================
function fChart(rect, lens, series, xr, xlab, ymax, yt, ylab, xH) {
  const order = [4, 3, 0, 1, 2];
  const widths = [1, 1, 1, 1.6, 1];
  const ds = series.map((arr, i) => ({
    data: lens.map((x, j) => ({ x, y: arr[j] })),
    borderColor: F_COLORS[i], backgroundColor: F_COLORS[i], pointBackgroundColor: F_COLORS[i], pointBorderColor: F_COLORS[i],
    borderWidth: widths[i], pointRadius: 1.3, pointBorderWidth: 0, fill: false, order: order[i],
  }));
  mk(rect, { type: 'line', data: { datasets: ds }, options: { scales: {
    x: linAxis('bottom', xr[0], xr[1], lens, xlab),
    y: linAxis('left', 0, ymax, yt, ylab),
  }, plugins: { frame: { on: true } } } }, { yW: 32, xH });
}
const fLabX = v => (v % 5 === 0 ? String(v) : '');
fChart([46, 747, 207, 843], F25_LEN, [F25_WT, F25_MSH2, F25_HCT, F25_PE2, F25_PE4], [15, 35], () => '', 0.25, [0,0.05,0.1,0.15,0.2,0.25], v => v.toFixed(2), 6);
fChart([46, 855, 207, 952], F25_LEN, [F25C_WT, F25C_MSH2, F25C_HCT, F25C_PE2, F25C_PE4], [15, 35], fLabX, 1, [0,0.2,0.4,0.6,0.8,1], v => v.toFixed(1), 14);
fChart([236, 747, 401, 843], F26_LEN, [F26_WT, F26_MSH2, F26_HCT, F26_PE2, F26_PE4], [10, 30], () => '', 0.4, [0,0.05,0.1,0.15,0.2,0.25,0.3,0.35,0.4], v => v.toFixed(2), 6);
fChart([236, 855, 401, 952], F26_LEN, [F26C_WT, F26C_MSH2, F26C_HCT, F26C_PE2, F26C_PE4], [10, 30], fLabX, 1, [0,0.2,0.4,0.6,0.8,1], v => v.toFixed(1), 14);

// ======================= PANEL G =======================
(function () {
  const L = 587, R = 653, n = G_CATS.length;
  const off = 5.25 / ((R - L) / n);
  const dots = [];
  G_EDIT_REPS.forEach((r, i) => r.forEach((v, j) => dots.push({ x: i - off + (j ? 0.05 : -0.05), y: v })));
  G_INDEL_REPS.forEach((r, i) => r.forEach((v, j) => dots.push({ x: i + off + (j ? 0.05 : -0.05), y: v })));
  mk([L, 782, R, 877], { type: 'bar', data: { datasets: [
    dotSet(dots, 1.2),
    { type: 'bar', data: G_EDIT.map((v, i) => ({ x: i, y: v })), backgroundColor: G_PINK, barThickness: 10.5, borderWidth: 0, inflateAmount: 0, order: 2 },
    { type: 'bar', data: G_INDEL.map((v, i) => ({ x: i, y: v })), backgroundColor: G_GRAY, barThickness: 10.5, borderWidth: 0, inflateAmount: 0, order: 2 },
  ] }, options: { scales: {
    x: linAxis('bottom', -0.5, n - 0.5, [0, 1], v => G_CATS[v], { tl: 0, pad: 3, fs: 8.5 }),
    y: linAxis('left', 0, 10, [0,2,4,6,8,10], v => String(v)),
  } } }, { yW: 24, xH: 14 });
})();

// ======================= TEXT =======================
[['A',2,0],['B',3,152],['C',3,437],['D',272,439],['E',501,439],['F',3,721],['G',544,723]].forEach(p => T(p[1], p[2], p[0], 15, 'p'));

// A
T(27, 65, '% of total sequencing reads<br>with indels in HEK293T cells', 8.5, 'r', 'line-height:11px');
T(88, 123, '<i>HEK3</i> +1 T to A', 9); T(90, 132, '+90 nick', 9);
T(198, 123, '<i>EMX1</i> +5 G to T', 9); T(201, 132, '+53 nick', 9);
T(302, 123, '<i>FANCF</i> +3 C to T', 9); T(304, 132, '+48 nick', 9);
T(423, 123, '<i>DNMT1</i> +1 A to C', 9); T(423, 132, '+49 nick', 9);
A_LABELS.forEach((lab, i) => {
  const y = [18.3, 31.3, 44.3, 57, 69.7, 82.7, 95, 108, 120.7][i];
  blk(498, y - 3, 6, 6, 'background:' + A_COLORS[i]);
  T(510, y, lab, 8.5, 'l');
});

// B
B_SPECS.forEach(s => {
  T(s.L + 50.5, 164, '<i>' + s.gene + '</i>', 10);
  T(s.L + 50.5, 175.5, s.sub, 10);
  blk(s.L + 78, 197, 31, 24, 'border:1px solid #c8c8c8;background:#fff;box-sizing:border-box');
  blk(s.L + 81, 203, 8, 1.5, 'background:' + BLK);
  blk(s.L + 81, 214, 8, 1.5, 'background:' + RED);
  T(s.L + 92, 204, 'PE3', 8, 'l'); T(s.L + 92, 215, 'PE5', 8, 'l');
});
T(18, 233, '% of sequencing reads<br>with position deleted', 8.5, 'r', 'line-height:10px');
T(19, 336, 'log<sub>2</sub> fold change<br>from PE3', 8.5, 'r', 'line-height:10px');
T(369, 421, 'Position in genome relative to pegRNA-directed nick', 8.5);

// C
T(89.5, 457, '<i>DNMT1</i> +1 A to C', 9.5); T(89.5, 468, '+49 nick', 9.5);
T(204.5, 457, '<i>DNMT1</i> +1 A to A', 9.5); T(204.5, 468, '+49 nick', 9.5);
[46, 161].forEach(L => {
  blk(L + 66, 487, 30, 25, 'border:1px solid #c8c8c8;background:#fff;box-sizing:border-box');
  blk(L + 69, 493, 8, 1.5, 'background:' + BLK);
  blk(L + 69, 505, 8, 1.5, 'background:' + RED);
  T(L + 80, 494, 'PE3', 8, 'l'); T(L + 80, 506, 'PE5', 8, 'l');
});
T(17, 524, '% of sequencing reads<br>with position deleted', 8.5, 'r', 'line-height:10px');
T(18, 626, 'log<sub>2</sub> fold change<br>from PE3', 8.5, 'r', 'line-height:10px');
T(147, 697, 'Position in genome relative to pegRNA-directed nick', 8.5);

// D
T(298, 564, '% of total sequencing reads with pegRNA scaffold sequence<br>incorporation or unintended flap rejoining in HEK293T cells', 8, 'r', 'line-height:9.5px');
blk(340, 469, 32, 27, 'border:1px solid #c8c8c8;background:#fff;box-sizing:border-box');
blk(344, 475.5, 2.6, 2.6, 'border-radius:50%;background:' + D_GRAY);
blk(344, 488, 2.6, 2.6, 'border-radius:50%;background:' + D_RED);
T(350, 477, 'PE2', 8.5, 'l'); T(350, 489.5, 'PE4', 8.5, 'l');
blk(432, 577, 31, 26, 'border:1px solid #c8c8c8;background:#fff;box-sizing:border-box');
blk(435, 583, 2.6, 2.6, 'border-radius:50%;background:' + D_GRAY);
blk(435, 594.5, 2.6, 2.6, 'border-radius:50%;background:' + D_RED);
T(441, 584.5, 'PE3', 8.5, 'l'); T(441, 596, 'PE5', 8.5, 'l');
T(400, 695, 'Locus', 8.5);

// E
T(506, 562, '% of total sequencing reads with prime editing at the specified loci', 7, 'r');
T(567.5, 452.5, '<i>HEK3</i> +5 G to T', 9.5); T(689, 452.5, '<i>EMX1</i> +5 G to T', 9.5);
T(571, 584.5, '<i>FANCF</i> +8 T to C', 9.5); T(689, 584.5, '<i>HEK4</i> +1 T to C', 9.5);
[[587, 471, 486], [701, 471, 486], [587, 602, 618], [701, 602, 618]].forEach(q => {
  blk(q[0], q[1] - 2.5, 5, 5, 'background:' + E_GRAY); T(q[0] + 9, q[1], 'PE2', 8.5, 'l');
  blk(q[0], q[2] - 2.5, 5, 5, 'background:' + E_PINK); T(q[0] + 9, q[2], 'PE4', 8.5, 'l');
});
T(553, 561, 'Target', 8); T(589.5, 561, 'Off-targets', 8);
T(665, 561, 'Target', 8); T(700, 561, 'Off-targets', 8);
T(550, 693, 'Target', 8); T(589, 693, 'Off-targets', 8);
T(660, 693, 'Target', 8); T(699, 693, 'Off-targets', 8);

// F
T(126, 739, 'Bat-25', 10); T(318, 739, 'Bat-26', 10);
T(126, 973, 'Homopolymer microsatellite length (nt)', 9); T(318, 973, 'Homopolymer microsatellite length (nt)', 9);
T(15, 795, 'Fraction of reads', 9, 'r');
T(15, 903, 'Cumulative fraction of reads', 9, 'r');
blk(409, 754, 92, 58, 'border:1px solid #c8c8c8;background:#fff;box-sizing:border-box');
const F_LEG = ['HAP1 wild-type', 'HAP1 Δ<i>MSH2</i>', 'HCT116 (<i>MLH1</i><sup style="font-size:5.5px">−/−</sup>)', 'HeLa PE2', 'HeLa PE4'];
[760, 770.7, 781.7, 792.7, 804].forEach((y, i) => {
  blk(413, y - 0.6, 17, i === 3 ? 1.6 : 1.2, 'background:' + F_COLORS[i]);
  blk(420, y - 1.5, 3, 3, 'border-radius:50%;background:' + F_COLORS[i]);
  T(435, y, F_LEG[i], 8.5, 'l');
});

// G
T(622, 757, 'HeLa, on-target control for', 9.5); T(622, 768, 'microsatellite sequencing', 9.5);
T(564, 830, '% of total sequencing reads<br>with the specified modification', 8.5, 'r', 'line-height:10px');
blk(648, 784.5, 6, 6, 'background:' + G_PINK); T(657, 787.5, '<i>HEK3</i> +5 G to T', 8.5, 'l');
blk(648, 796.5, 6, 6, 'background:' + G_GRAY); T(657, 799.5, 'Indels', 8.5, 'l');
</script>
</body></html>
